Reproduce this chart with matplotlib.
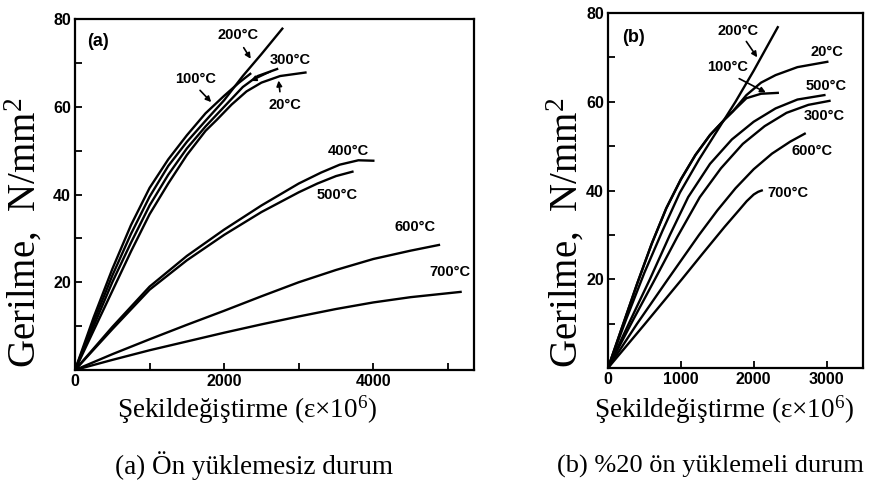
import numpy as np
import matplotlib
matplotlib.use("Agg")
import matplotlib.pyplot as plt

plt.rcParams['mathtext.fontset'] = 'custom'
plt.rcParams['mathtext.rm'] = 'Liberation Serif'
plt.rcParams['mathtext.it'] = 'Liberation Serif:italic'

# ---- panel (a): no preload ----
a_labels = ['20°C', '100°C', '200°C', '300°C', '400°C', '500°C', '600°C', '700°C']
a_strain = [
    [0, 250, 500, 750, 1000, 1250, 1500, 1750, 1900, 2100, 2300, 2500, 2750, 3090],
    [0, 250, 500, 750, 1000, 1250, 1500, 1750, 2000, 2200, 2350],
    [0, 250, 500, 750, 1000, 1250, 1500, 1750, 2000, 2250, 2500, 2780],
    [0, 250, 500, 750, 1000, 1250, 1500, 1750, 2000, 2250, 2450, 2710],
    [0, 500, 1000, 1500, 2000, 2500, 3000, 3300, 3550, 3800, 4000],
    [0, 500, 1000, 1500, 2000, 2500, 3000, 3250, 3500, 3720],
    [0, 500, 1000, 1500, 2000, 2500, 3000, 3500, 4000, 4500, 4880],
    [0, 500, 1000, 1500, 2000, 2500, 3000, 3500, 4000, 4500, 5170],
]
a_stress = [
    [0, 9, 18, 27, 35.5, 42.5, 49, 54.5, 57, 60.5, 63.5, 65.5, 67, 67.8],
    [0, 12, 23, 33, 41.5, 48, 53.5, 58.5, 62.5, 65.5, 67.5],
    [0, 11, 21.5, 31, 39.5, 46.5, 52, 56.8, 61.5, 67, 72, 77.8],
    [0, 10, 20, 29, 37.5, 44.5, 50.5, 55.5, 60, 64.5, 67, 68.6],
    [0, 9.8, 19, 26, 32, 37.5, 42.5, 45, 46.8, 47.8, 47.7],
    [0, 9.3, 18.3, 25, 30.8, 36, 40.5, 42.5, 44.2, 45.2],
    [0, 3.6, 7, 10.3, 13.5, 16.8, 20, 22.8, 25.3, 27.2, 28.5],
    [0, 2.3, 4.5, 6.5, 8.5, 10.4, 12.2, 13.9, 15.4, 16.6, 17.8],
]

# ---- panel (b): 20 % preload ----
b_labels = ['20°C', '100°C', '200°C', '300°C', '500°C', '600°C', '700°C']
b_strain = [
    [0, 200, 400, 600, 800, 1000, 1200, 1400, 1600, 1712, 1900, 2100, 2300, 2600, 3010],
    [0, 200, 400, 600, 800, 1000, 1200, 1400, 1600, 1712, 1900, 2100, 2330],
    [0, 250, 500, 750, 986, 1250, 1500, 1750, 2000, 2330],
    [0, 350, 644, 950, 1260, 1550, 1850, 2150, 2450, 2750, 3040],
    [0, 300, 575, 850, 1100, 1400, 1700, 2000, 2300, 2600, 2970],
    [0, 400, 822, 1250, 1500, 1750, 2000, 2250, 2500, 2700],
    [0, 500, 1014, 1300, 1600, 1800, 1904, 2000, 2060, 2110],
]
b_stress = [
    [0, 9.5, 19, 28, 36, 42.5, 48, 52.5, 56, 57.8, 61.5, 64.3, 66, 67.8, 69],
    [0, 9.5, 19, 28, 36, 42.5, 48, 52.5, 56, 57.8, 60.8, 61.8, 62],
    [0, 11, 21.5, 31, 39.5, 47, 53.5, 60, 67, 76.8],
    [0, 11, 20, 29.5, 38.5, 45, 50.5, 54.5, 57.5, 59.3, 60.2],
    [0, 10.5, 20, 30, 38.5, 46, 51.5, 55.5, 58.5, 60.5, 61.5],
    [0, 10, 20, 30, 35.5, 40.5, 44.8, 48.3, 51, 52.8],
    [0, 9.8, 20, 25.8, 31.8, 35.6, 37.6, 39.1, 39.7, 40],
]

W, H = 871, 494
fig = plt.figure(figsize=(W / 100, H / 100), dpi=100)
ax1 = fig.add_axes([75 / W, 1 - 370 / H, (474 - 75) / W, (370 - 19) / H])
ax2 = fig.add_axes([608 / W, 1 - 368 / H, (863 - 608) / W, (368 - 13) / H])

tick_font = dict(family='Liberation Sans', weight='bold', size=11.5)
lab_font = dict(family='Liberation Sans', weight='bold', size=10.5)


def style(ax, xmax, xticks, xlabels):
    ax.set_xlim(0, xmax)
    ax.set_ylim(0, 80)
    ax.set_xticks(xticks)
    ax.set_xticklabels(xlabels, **tick_font)
    ax.set_yticks(range(0, 81, 10))
    ax.set_yticklabels(['', '', '20', '', '40', '', '60', '', '80'], **tick_font)
    ax.tick_params(direction='in', length=5, width=1.3, pad=3)
    for s in ax.spines.values():
        s.set_linewidth(1.6)


for xs, ys in zip(a_strain, a_stress):
    ax1.plot(xs, ys, color='black', lw=1.7)
for xs, ys in zip(b_strain, b_stress):
    ax2.plot(xs, ys, color='black', lw=1.7)

style(ax1, 5350, range(0, 5001, 1000), ['0', '', '2000', '', '4000', ''])
style(ax2, 3500, range(0, 3001, 1000), ['0', '1000', '2000', '3000'])

ax1.text(0.03, 0.935, '(a)', transform=ax1.transAxes, ha='left', va='center',
         family='Liberation Sans', weight='bold', size=13)
ax2.text(0.055, 0.93, '(b)', transform=ax2.transAxes, ha='left', va='center',
         family='Liberation Sans', weight='bold', size=13)

arrow = dict(arrowstyle='-|>', color='black', lw=1.2, mutation_scale=8)

# panel (a) curve labels
a_pos = {'20°C': (2819, 60.4), '100°C': (1611, 66.3), '200°C': (2188, 76.3),
         '300°C': (2886, 70.6), '400°C': (3664, 49.9), '500°C': (3517, 39.9),
         '600°C': (4564, 32.6), '700°C': (5034, 22.3)}
for lab in a_labels:
    ax1.text(*a_pos[lab], lab, ha='center', va='center', **lab_font)
ax1.annotate('', xy=(2376, 70.4), xytext=(2242, 74.0), arrowprops=arrow)
ax1.annotate('', xy=(2322, 65.6), xytext=(2658, 68.3), arrowprops=arrow)
ax1.annotate('', xy=(1852, 60.6), xytext=(1651, 64.2), arrowprops=arrow)
ax1.annotate('', xy=(2725, 66.6), xytext=(2752, 62.8), arrowprops=arrow)

# panel (b) curve labels
b_pos = {'20°C': (3000, 71.2), '100°C': (1644, 67.8), '200°C': (1781, 75.9),
         '300°C': (2973, 56.7), '500°C': (3000, 63.5), '600°C': (2795, 48.8),
         '700°C': (2466, 39.5)}
for lab in b_labels:
    ax2.text(*b_pos[lab], lab, ha='center', va='center', **lab_font)
ax2.annotate('', xy=(2070, 69.5), xytext=(1877, 74.1), arrowprops=arrow)
ax2.annotate('', xy=(2200, 61.8), xytext=(1767, 65.5), arrowprops=arrow)

serif = dict(family='Liberation Serif', color='black')
ylab = 'Gerilme,  N/mm$^2$'
xlab = 'Şekildeğiştirme (ε×10$^6$)'
fig.text(24 / W, 1 - 233 / H, ylab, rotation=90, ha='center', va='center', size=28, **serif)
fig.text(566 / W, 1 - 233 / H, ylab, rotation=90, ha='center', va='center', size=28, **serif)
fig.text(247 / W, 1 - 410 / H, xlab, ha='center', va='center', size=19.5, **serif)
fig.text(724 / W, 1 - 410 / H, xlab, ha='center', va='center', size=19.5, **serif)
fig.text(254 / W, 1 - 466 / H, '(a) Ön yüklemesiz durum', ha='center', va='center', size=19.5, **serif)
fig.text(710 / W, 1 - 466 / H, '(b) %20 ön yüklemeli durum', ha='center', va='center', size=19, **serif)

fig.savefig('out.png', dpi=100)
